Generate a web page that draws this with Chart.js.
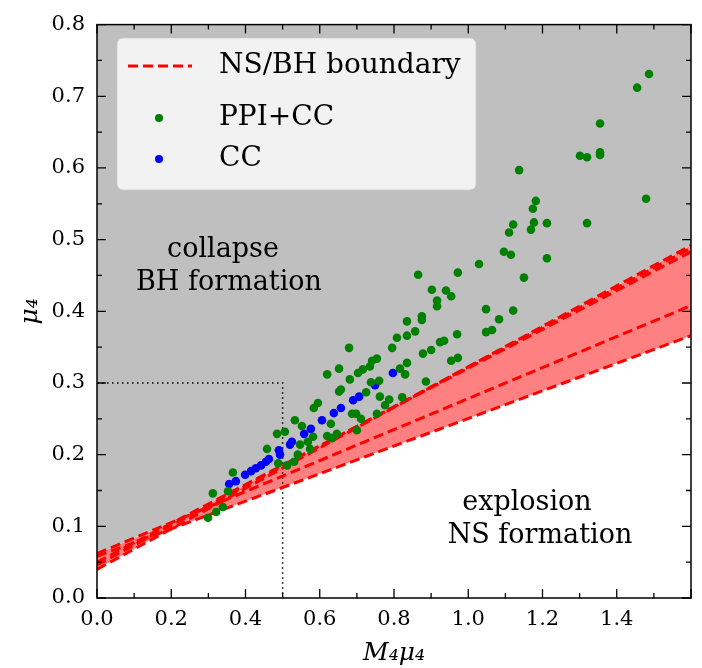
<!DOCTYPE html>
<html>
<head>
<meta charset="utf-8">
<script src="https://cdn.jsdelivr.net/npm/chart.js@4"></script>
<style>
  html, body { margin: 0; padding: 0; background: #fff; }
  #wrap { width: 702px; height: 668px; }
</style>
</head>
<body>
<div id="wrap"><canvas id="myChart" width="702" height="668"></canvas></div>
<script>
// tick labels
const xTicks = [0.0, 0.2, 0.4, 0.6, 0.8, 1.0, 1.2, 1.4];
const yTicks = [0.0, 0.1, 0.2, 0.3, 0.4, 0.5, 0.6, 0.7, 0.8];

// NS/BH boundary lines, value at x=0 and x=1.6
const boundaryX = [0, 1.6];
const boundaryA = [0.040, 0.492];
const boundaryB = [0.046, 0.488];
const boundaryC = [0.050, 0.483];
const boundaryD = [0.062, 0.408];
const boundaryE = [0.058, 0.366];

// dotted guide
const guideX = [0, 0.5, 0.5];
const guideY = [0.3, 0.3, 0.0];

// PPI+CC models
const ppiX = [0.299, 0.312, 0.321, 0.339, 0.353, 0.366, 0.458, 0.485, 0.488, 0.506, 0.512, 0.533, 0.531, 0.541, 0.547, 0.552, 0.568, 0.574, 0.582, 0.584, 0.595, 0.620, 0.620, 0.630, 0.633, 0.646, 0.652, 0.652, 0.657, 0.679, 0.681, 0.687, 0.698, 0.700, 0.703, 0.711, 0.716, 0.725, 0.735, 0.741, 0.754, 0.738, 0.760, 0.754, 0.762, 0.776, 0.787, 0.795, 0.808, 0.816, 0.822, 0.830, 0.835, 0.835, 0.835, 0.857, 0.865, 0.875, 0.875, 0.878, 0.886, 0.900, 0.902, 0.916, 0.916, 0.924, 0.935, 0.940, 0.954, 0.954, 0.970, 0.972, 0.972, 1.029, 1.048, 1.048, 1.064, 1.083, 1.096, 1.115, 1.110, 1.121, 1.121, 1.137, 1.150, 1.169, 1.177, 1.174, 1.182, 1.212, 1.212, 1.301, 1.320, 1.355, 1.355, 1.355, 1.320, 1.479, 1.455, 1.487];
const ppiY = [0.112, 0.146, 0.120, 0.127, 0.149, 0.175, 0.208, 0.229, 0.188, 0.232, 0.185, 0.248, 0.190, 0.200, 0.214, 0.240, 0.218, 0.208, 0.225, 0.265, 0.272, 0.312, 0.226, 0.243, 0.223, 0.229, 0.320, 0.288, 0.291, 0.349, 0.305, 0.257, 0.257, 0.234, 0.314, 0.250, 0.319, 0.287, 0.323, 0.331, 0.334, 0.301, 0.303, 0.257, 0.281, 0.269, 0.277, 0.349, 0.363, 0.320, 0.280, 0.312, 0.366, 0.386, 0.328, 0.372, 0.451, 0.393, 0.388, 0.341, 0.302, 0.346, 0.430, 0.415, 0.407, 0.357, 0.359, 0.429, 0.421, 0.331, 0.368, 0.335, 0.454, 0.466, 0.403, 0.371, 0.374, 0.389, 0.483, 0.479, 0.510, 0.521, 0.401, 0.597, 0.447, 0.514, 0.524, 0.543, 0.554, 0.523, 0.474, 0.617, 0.615, 0.622, 0.618, 0.662, 0.523, 0.557, 0.712, 0.731];

// CC models
const ccX = [0.356, 0.374, 0.399, 0.415, 0.428, 0.442, 0.455, 0.463, 0.490, 0.493, 0.520, 0.525, 0.558, 0.576, 0.606, 0.638, 0.657, 0.690, 0.706, 0.749, 0.797];
const ccY = [0.159, 0.163, 0.172, 0.177, 0.181, 0.185, 0.190, 0.194, 0.206, 0.200, 0.214, 0.218, 0.229, 0.236, 0.248, 0.258, 0.265, 0.276, 0.281, 0.297, 0.314];

const SERIF = "'DejaVu Serif', 'Liberation Serif', serif";
const RED = '#ff0000';
const DASH = [10, 5];

const pts = (xs, ys) => xs.map((x, i) => ({ x, y: ys[i] }));
const line = (ys) => pts(boundaryX, ys);

// upper / lower envelope of the boundary lines (they cross, so break at intersections)
const allLines = [boundaryA, boundaryB, boundaryC, boundaryD, boundaryE];
const x0 = boundaryX[0], x1 = boundaryX[1];
const valAt = (l, x) => l[0] + (l[1] - l[0]) * (x - x0) / (x1 - x0);
let breaks = [x0, x1];
for (let i = 0; i < allLines.length; i++) {
  for (let j = i + 1; j < allLines.length; j++) {
    const a = allLines[i], b = allLines[j];
    const d0 = a[0] - b[0], d1 = a[1] - b[1];
    if (d0 * d1 < 0) breaks.push(x0 + (x1 - x0) * d0 / (d0 - d1));
  }
}
breaks.sort((p, q) => p - q);
const upperEnv = breaks.map(x => ({ x, y: Math.max(...allLines.map(l => valAt(l, x))) }));
const lowerEnv = breaks.map(x => ({ x, y: Math.min(...allLines.map(l => valAt(l, x))) }));

// ticks pointing inwards on all four sides + frame
const frameTicks = {
  id: 'frameTicks',
  afterDraw(chart) {
    const { ctx, chartArea: a, scales } = chart;
    const xs = scales.x, ys = scales.y;
    ctx.save();
    ctx.strokeStyle = '#000';
    ctx.lineWidth = 1.5;
    ctx.strokeRect(a.left, a.top, a.right - a.left, a.bottom - a.top);
    ctx.lineWidth = 1.3;
    ctx.beginPath();
    for (let i = 0; i <= 16; i++) {
      const px = xs.getPixelForValue(i * 0.1);
      const len = i % 2 === 0 ? 9 : 5;
      ctx.moveTo(px, a.bottom); ctx.lineTo(px, a.bottom - len);
      ctx.moveTo(px, a.top); ctx.lineTo(px, a.top + len);
    }
    for (let i = 0; i <= 16; i++) {
      const py = ys.getPixelForValue(i * 0.05);
      const len = i % 2 === 0 ? 9 : 5;
      ctx.moveTo(a.left, py); ctx.lineTo(a.left + len, py);
      ctx.moveTo(a.right, py); ctx.lineTo(a.right - len, py);
    }
    ctx.stroke();
    ctx.restore();
  }
};

// region labels and legend box inside the plot
const insideText = {
  id: 'insideText',
  afterDraw(chart) {
    const { ctx } = chart;
    const ds = chart.data.datasets;
    ctx.save();
    ctx.fillStyle = '#000';
    ctx.font = '27px ' + SERIF;
    ctx.textAlign = 'center';
    ctx.textBaseline = 'middle';
    ctx.fillText('collapse', 223, 250);
    ctx.fillText('BH formation', 229, 283);
    ctx.fillText('explosion', 527, 503);
    ctx.fillText('NS formation', 540, 536);

    // legend
    const bx = 117, by = 38, bw = 359, bh = 152, r = 6;
    ctx.beginPath();
    ctx.roundRect(bx, by, bw, bh, r);
    ctx.fillStyle = 'rgba(255,255,255,0.8)';
    ctx.fill();
    ctx.strokeStyle = 'rgba(204,204,204,0.8)';
    ctx.lineWidth = 1;
    ctx.stroke();

    const items = [
      { label: ds[2].label, kind: 'line', color: ds[2].borderColor, y: 66 },
      { label: ds[0].label, kind: 'dot', color: ds[0].backgroundColor, y: 118 },
      { label: ds[1].label, kind: 'dot', color: ds[1].backgroundColor, y: 159 }
    ];
    ctx.font = '28px ' + SERIF;
    ctx.textAlign = 'left';
    items.forEach(it => {
      if (it.kind === 'line') {
        ctx.strokeStyle = it.color;
        ctx.lineWidth = 3;
        ctx.setLineDash(DASH);
        ctx.beginPath();
        ctx.moveTo(128, it.y); ctx.lineTo(192, it.y);
        ctx.stroke();
        ctx.setLineDash([]);
      } else {
        ctx.fillStyle = it.color;
        ctx.beginPath();
        ctx.arc(159, it.y, 4, 0, Math.PI * 2);
        ctx.fill();
      }
      ctx.fillStyle = '#000';
      ctx.fillText(it.label, 219, it.y);
    });
    ctx.restore();
  }
};

const boundaryStyle = {
  showLine: true, pointRadius: 0, borderColor: RED, borderWidth: 3,
  borderDash: DASH, fill: false
};

const ctx = document.getElementById('myChart');
const myChart = new Chart(ctx, {
  type: 'scatter',
  data: {
    datasets: [
      { label: 'PPI+CC', data: pts(ppiX, ppiY), backgroundColor: '#008000', borderWidth: 0, pointRadius: 4.3 },
      { label: 'CC', data: pts(ccX, ccY), backgroundColor: '#0000ff', borderWidth: 0, pointRadius: 4.3 },
      { label: 'NS/BH boundary', data: line(boundaryA), ...boundaryStyle },
      { label: 'b', data: line(boundaryB), ...boundaryStyle },
      { label: 'c', data: line(boundaryC), ...boundaryStyle },
      { label: 'd', data: line(boundaryD), ...boundaryStyle },
      { label: 'e', data: line(boundaryE), ...boundaryStyle },
      { label: 'guide', data: pts(guideX, guideY), showLine: true, pointRadius: 0, borderColor: '#000', borderWidth: 1.5, borderDash: [1.5, 3.5] },
      { label: 'upper', data: upperEnv, showLine: true, pointRadius: 0, borderWidth: 0, borderColor: 'rgba(0,0,0,0)', fill: 'end', backgroundColor: '#bfbfbf' },
      { label: 'lower', data: lowerEnv, showLine: true, pointRadius: 0, borderWidth: 0, borderColor: 'rgba(0,0,0,0)', fill: '-1', backgroundColor: '#ff8080' }
    ]
  },
  options: {
    responsive: false,
    animation: false,
    layout: { padding: { left: 0, top: 18, right: 11, bottom: 0 } },
    plugins: {
      legend: { display: false },
      tooltip: { enabled: false },
      filler: { drawTime: 'beforeDatasetsDraw' }
    },
    scales: {
      x: {
        type: 'linear', min: 0, max: 1.6,
        afterFit(scale) { scale.height = 70; },
        afterBuildTicks(scale) { scale.ticks = xTicks.map(v => ({ value: v })); },
        grid: { display: false, drawTicks: false },
        border: { display: false },
        ticks: { color: '#000', padding: 9, maxRotation: 0, font: { family: SERIF, size: 21 }, callback: v => v.toFixed(1) },
        title: { display: true, text: 'M₄μ₄', color: '#000', padding: { top: 2, bottom: 0 }, font: { family: SERIF, size: 25, style: 'italic' } }
      },
      y: {
        type: 'linear', min: 0, max: 0.8,
        afterFit(scale) { scale.width = 97; },
        afterBuildTicks(scale) { scale.ticks = yTicks.map(v => ({ value: v })); },
        grid: { display: false, drawTicks: false },
        border: { display: false },
        ticks: { color: '#000', padding: 12, font: { family: SERIF, size: 21 }, callback: v => v.toFixed(1) },
        title: { display: true, text: 'μ₄', color: '#000', padding: { top: 8, bottom: 0 }, font: { family: SERIF, size: 25, style: 'italic', lineHeight: 1.8 } }
      }
    }
  },
  plugins: [frameTicks, insideText]
});
</script>
</body>
</html>
